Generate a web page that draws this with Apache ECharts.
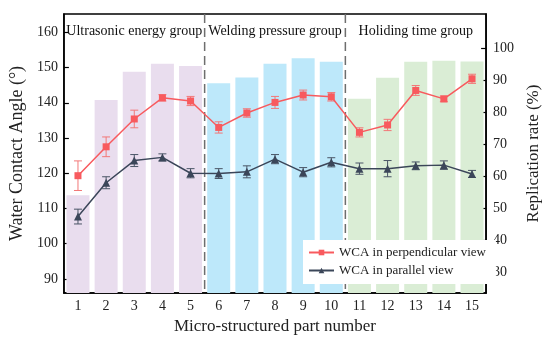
<!DOCTYPE html>
<html>
<head>
<meta charset="utf-8">
<script src="https://cdn.jsdelivr.net/npm/echarts@6/dist/echarts.min.js"></script>
<style>html,body{margin:0;padding:0;background:#fff;}#c{width:550px;height:345px;}</style>
</head>
<body>
<div id="c"></div>
<script>
var categories = ['1','2','3','4','5','6','7','8','9','10','11','12','13','14','15'];
var replication = [54.2, 83.9, 92.7, 95.2, 94.5, 89.1, 90.9, 95.2, 96.9, 95.8, 84.3, 90.8, 95.8, 96.1, 95.9];
var perp = [119.3, 127.5, 135.4, 141.4, 140.5, 133.0, 137.1, 140.1, 142.2, 141.7, 131.6, 133.7, 143.5, 141.1, 146.8];
var perpErr = [4.2, 2.8, 2.5, 0.9, 1.3, 1.6, 1.2, 1.7, 1.4, 1.2, 1.3, 1.6, 1.4, 0.8, 1.3];
var para = [107.7, 117.3, 123.6, 124.5, 120.0, 119.9, 120.4, 124.0, 120.3, 123.1, 121.3, 121.3, 122.1, 122.3, 119.8];
var paraErr = [2.1, 1.7, 1.7, 1.0, 1.3, 1.4, 1.7, 1.3, 1.3, 1.3, 1.6, 2.3, 1.1, 1.2, 1.0];
var groupNames = ['Ultrasonic energy group', 'Welding pressure group', 'Holiding time group'];
var groupOf = [0,0,0,0,0,1,1,1,1,1,2,2,2,2,2];
var groupCenters = [2, 7, 12];
var dividers = [4.5, 9.5];
var leftTicks = [90, 100, 110, 120, 130, 140, 150, 160];
var rightTicks = [30, 40, 50, 60, 70, 80, 90, 100];
var seriesNames = ['WCA in perpendicular view', 'WCA in parallel view'];

var groupColors = ['#e9ddee', '#bde8fa', '#daedd5'];
var FONT = 'Liberation Serif';

var chart = echarts.init(document.getElementById('c'), null, {renderer: 'canvas'});

function errData(vals, errs) {
  return vals.map(function (v, i) { return [i, v - errs[i], v + errs[i]]; });
}
function errRender(color) {
  return function (params, api) {
    var x = api.value(0);
    var lo = api.coord([x, api.value(1)]);
    var hi = api.coord([x, api.value(2)]);
    var w = 4;
    var st = {stroke: color, lineWidth: 1};
    return {type: 'group', children: [
      {type: 'line', shape: {x1: lo[0], y1: lo[1], x2: hi[0], y2: hi[1]}, style: st},
      {type: 'line', shape: {x1: lo[0] - w, y1: lo[1], x2: lo[0] + w, y2: lo[1]}, style: st},
      {type: 'line', shape: {x1: hi[0] - w, y1: hi[1], x2: hi[0] + w, y2: hi[1]}, style: st}
    ]};
  };
}

var option = {
  backgroundColor: '#fff',
  animation: false,
  textStyle: {fontFamily: FONT},
  grid: {left: 60, top: 14, right: 53, bottom: 52, show: true, borderColor: '#000', borderWidth: 1.5, backgroundColor: 'transparent'},
  legend: {
    data: seriesNames,
    orient: 'vertical',
    left: 303, top: 240,
    padding: [6, 10, 7, 5],
    backgroundColor: '#fff',
    itemWidth: 25, itemHeight: 7, itemGap: 5,
    textStyle: {fontFamily: FONT, fontSize: 13, color: '#222'}
  },
  xAxis: [{
    type: 'category',
    data: categories,
    boundaryGap: true,
    name: 'Micro-structured part number',
    nameLocation: 'middle',
    nameGap: 24,
    nameTextStyle: {fontFamily: FONT, fontSize: 17, color: '#222'},
    axisLine: {onZero: false, lineStyle: {color: '#000', width: 1.5}},
    axisTick: {inside: true, alignWithLabel: true, length: 5, lineStyle: {color: '#000', width: 1.2}},
    axisLabel: {fontFamily: FONT, fontSize: 14, color: '#222', margin: 6},
    splitLine: {show: false}
  }, {
    type: 'value',
    min: -0.5, max: 14.5,
    show: false
  }],
  yAxis: [{
    type: 'value',
    min: 86, max: 165.2,
    position: 'left',
    name: 'Water Contact Angle (°)',
    nameLocation: 'middle',
    nameGap: 33,
    nameTextStyle: {fontFamily: FONT, fontSize: 18, color: '#222'},
    axisLine: {show: true, onZero: false, lineStyle: {color: '#000', width: 1.5}},
    axisTick: {show: true, inside: true, length: 5, customValues: leftTicks, lineStyle: {color: '#000', width: 1.2}},
    axisLabel: {fontFamily: FONT, fontSize: 14, color: '#222', margin: 6, customValues: leftTicks},
    splitLine: {show: false}
  }, {
    type: 'value',
    min: 23.7, max: 110.7,
    position: 'right',
    name: 'Replication rate (%)',
    nameLocation: 'middle',
    nameGap: 24,
    nameRotate: 90,
    nameTextStyle: {fontFamily: FONT, fontSize: 17, color: '#222'},
    axisLine: {show: true, onZero: false, lineStyle: {color: '#000', width: 1.5}},
    axisTick: {show: true, inside: true, length: 5, customValues: rightTicks, lineStyle: {color: '#000', width: 1.2}},
    axisLabel: {fontFamily: FONT, fontSize: 14, color: '#222', margin: 7, customValues: rightTicks},
    splitLine: {show: false}
  }],
  series: [
    {
      name: 'Replication rate',
      type: 'bar',
      xAxisIndex: 0, yAxisIndex: 1,
      barWidth: 23,
      z: 1,
      data: replication.map(function (v, i) {
        return {value: v, itemStyle: {color: groupColors[groupOf[i]]}};
      })
    },
    {
      name: 'dividers',
      type: 'custom',
      xAxisIndex: 1, yAxisIndex: 0,
      z: 2,
      silent: true,
      data: dividers.map(function (d) { return [d, 100]; }),
      renderItem: function (params, api) {
        var p = api.coord([api.value(0), 100]);
        var cs = params.coordSys;
        return {type: 'line', shape: {x1: p[0], y1: cs.y, x2: p[0], y2: cs.y + cs.height},
          style: {stroke: '#6e6e6e', lineWidth: 1.5, lineDash: [9, 5]}};
      }
    },
    {
      name: 'groupLabels',
      type: 'custom',
      xAxisIndex: 1, yAxisIndex: 0,
      z: 3,
      silent: true,
      data: groupCenters.map(function (c, i) { return [c, 100, i]; }),
      renderItem: function (params, api) {
        var p = api.coord([api.value(0), 100]);
        var cs = params.coordSys;
        return {type: 'text', x: p[0], y: cs.y + 17,
          style: {text: groupNames[api.value(2)], fill: '#111', font: '14px "Liberation Serif"', textAlign: 'center', textVerticalAlign: 'middle'}};
      }
    },
    {
      name: 'perpErr',
      type: 'custom',
      xAxisIndex: 0, yAxisIndex: 0,
      z: 4,
      silent: true,
      data: errData(perp, perpErr),
      renderItem: errRender('#f27878')
    },
    {
      name: 'paraErr',
      type: 'custom',
      xAxisIndex: 0, yAxisIndex: 0,
      z: 4,
      silent: true,
      data: errData(para, paraErr),
      renderItem: errRender('#4a5566')
    },
    {
      name: seriesNames[0],
      type: 'line',
      xAxisIndex: 0, yAxisIndex: 0,
      z: 5,
      data: perp,
      symbol: 'rect',
      symbolSize: 7,
      color: '#f85a5e',
      lineStyle: {color: '#f85a5e', width: 1.5},
      itemStyle: {color: '#f85a5e'}
    },
    {
      name: seriesNames[1],
      type: 'line',
      xAxisIndex: 0, yAxisIndex: 0,
      z: 5,
      data: para,
      symbol: 'triangle',
      symbolSize: 8,
      color: '#3b4659',
      lineStyle: {color: '#3b4659', width: 1.5},
      itemStyle: {color: '#3b4659'}
    }
  ]
};
chart.setOption(option);
</script>
</body>
</html>
